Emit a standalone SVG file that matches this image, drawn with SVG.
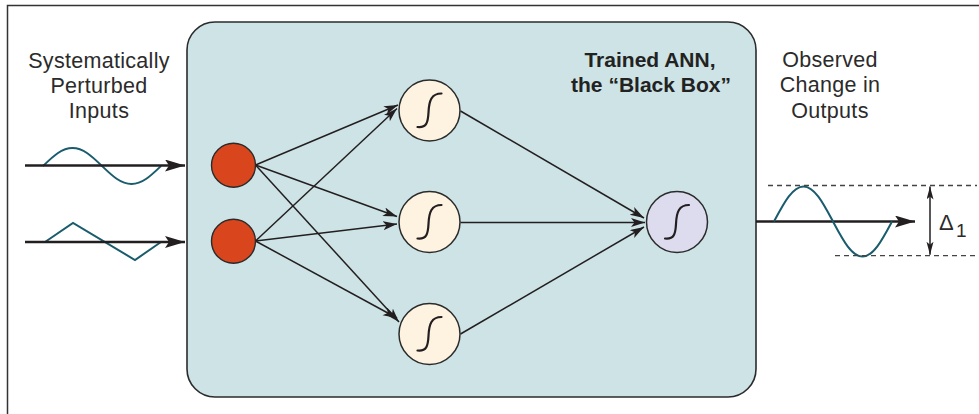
<svg xmlns="http://www.w3.org/2000/svg" width="979" height="414" viewBox="0 0 979 414">
<style>
.frame{fill:none;stroke:#333;stroke-width:1.5}
.box{fill:#cde3e5;stroke:#2b2b2b;stroke-width:1.6}
.inp{fill:#d9461e;stroke:#2b2b2b;stroke-width:1.4}
.hid{fill:#fef3e0;stroke:#2b2b2b;stroke-width:1.5}
.out{fill:#dddcee;stroke:#2b2b2b;stroke-width:1.5}
.sig{fill:none;stroke:#231f20;stroke-width:2.2;stroke-linecap:round}
.conn{fill:none;stroke:#231f20;stroke-width:1.5}
.axis{fill:none;stroke:#231f20;stroke-width:2.5}
.wave{fill:none;stroke:#1a5c6e;stroke-width:2}
.dash{fill:none;stroke:#444;stroke-width:1.3;stroke-dasharray:5 4}
.dim{fill:none;stroke:#231f20;stroke-width:1.5}
.lbl{font-family:"Liberation Sans",Arial,sans-serif;font-size:21.5px;letter-spacing:0.3px;fill:#2b2b2b;text-anchor:middle}
.ttl{font-family:"Liberation Sans",Arial,sans-serif;font-size:21px;font-weight:bold;fill:#222;text-anchor:middle}
.dl{font-family:"Liberation Sans",Arial,sans-serif;font-size:22px;fill:#2b2b2b}
.ds{font-family:"Liberation Sans",Arial,sans-serif;font-size:19px;fill:#2b2b2b}
</style>
<defs>
<marker id="arr" markerUnits="userSpaceOnUse" markerWidth="16" markerHeight="10" refX="14" refY="4.5" orient="auto"><path d="M0,0 L14,4.5 L0,9 L3.5,4.5 Z" fill="#231f20"/></marker>
<marker id="big" markerUnits="userSpaceOnUse" markerWidth="22" markerHeight="13" refX="20" refY="6" orient="auto"><path d="M0,0 L20,6 L0,12 L4,6 Z" fill="#231f20"/></marker>
<marker id="sm" markerUnits="userSpaceOnUse" markerWidth="14" markerHeight="8" refX="13" refY="3.5" orient="auto-start-reverse"><path d="M0,0 L13,3.5 L0,7 L3,3.5 Z" fill="#231f20"/></marker>
<g id="sigmoid"><path class="sig" d="M-12,16.5 C-3,17.5 -1.5,12 -1,2 C-0.5,-10 2,-17 12,-17"/></g>
</defs>
<path class="frame" d="M7.5,414 L7.5,5.5 L979,5.5"/>
<g id="blackbox"><rect class="box" x="187" y="22" width="569" height="375" rx="28" ry="28"/>
<text class="ttl" x="650" y="67">Trained ANN,</text>
<text class="ttl" x="651" y="92">the “Black Box”</text></g>
<g id="input-label"><text class="lbl" x="99" y="68">Systematically</text><text class="lbl" x="99" y="92.5">Perturbed</text><text class="lbl" x="99" y="118">Inputs</text></g>
<g id="output-label"><text class="lbl" x="830" y="67">Observed</text><text class="lbl" x="830" y="92">Change in</text><text class="lbl" x="830" y="117.5">Outputs</text></g>
<g id="input-signals">
<path class="wave" d="M43,166 C52.6,156.8 61.4,148 72.5,148 C83.6,148 92.4,156.8 102,166 C111.6,175.2 120.4,184 131.5,184 C142.6,184 151.4,175.2 161,166"/>
<path class="wave" d="M45,242 L73,223 L135,260 L161,242"/>
</g>
<g id="connectors">
<line class="axis" x1="25" y1="165.5" x2="185" y2="165.5" marker-end="url(#big)"/>
<line class="axis" x1="25" y1="242" x2="185" y2="242" marker-end="url(#big)"/>
<line class="conn" x1="255.5" y1="165" x2="398" y2="105" marker-end="url(#arr)"/>
<line class="conn" x1="255.5" y1="165" x2="397" y2="216.5" marker-end="url(#arr)"/>
<line class="conn" x1="255.5" y1="165" x2="399" y2="322" marker-end="url(#arr)"/>
<line class="conn" x1="255.5" y1="241" x2="397" y2="108.5" marker-end="url(#arr)"/>
<line class="conn" x1="255.5" y1="241" x2="397" y2="224" marker-end="url(#arr)"/>
<line class="conn" x1="255.5" y1="241" x2="397" y2="318" marker-end="url(#arr)"/>
<line class="conn" x1="460.5" y1="111" x2="644" y2="218" marker-end="url(#arr)"/>
<line class="conn" x1="460.5" y1="222.5" x2="645" y2="222.5" marker-end="url(#arr)"/>
<line class="conn" x1="460.5" y1="334" x2="644" y2="227" marker-end="url(#arr)"/>
<line class="axis" x1="756" y1="221.5" x2="915" y2="221.5" marker-end="url(#big)"/>
</g>
<g id="in1"><circle class="inp" cx="233.5" cy="165.3" r="22"/></g>
<g id="in2"><circle class="inp" cx="233.5" cy="241.3" r="22"/></g>
<g id="h1"><circle class="hid" cx="429.5" cy="110.5" r="30.5"/><use href="#sigmoid" x="429.5" y="110.5"/></g>
<g id="h2"><circle class="hid" cx="429.5" cy="222" r="30.5"/><use href="#sigmoid" x="429.5" y="222"/></g>
<g id="h3"><circle class="hid" cx="429.5" cy="334" r="30.5"/><use href="#sigmoid" x="429.5" y="334"/></g>
<g id="out"><circle class="out" cx="677" cy="222" r="30.5"/><use href="#sigmoid" x="677" y="222"/></g>
<g id="output-signal">
<path class="wave" d="M774,221.5 C783.6,203.6 792.4,186.5 803.5,186.5 C814.6,186.5 823.4,203.6 833,221.5 C842.6,239.4 851.4,256.5 862.5,256.5 C873.6,256.5 882.4,239.4 892,221.5"/>
<line class="dash" x1="768" y1="185.5" x2="977" y2="185.5"/>
<line class="dash" x1="835" y1="255.7" x2="977" y2="255.7"/>
<line class="dim" x1="930" y1="186.5" x2="930" y2="254.7" marker-start="url(#sm)" marker-end="url(#sm)"/>
<text class="dl" x="939" y="230">Δ</text><text class="ds" x="956" y="237">1</text>
</g>
</svg>
